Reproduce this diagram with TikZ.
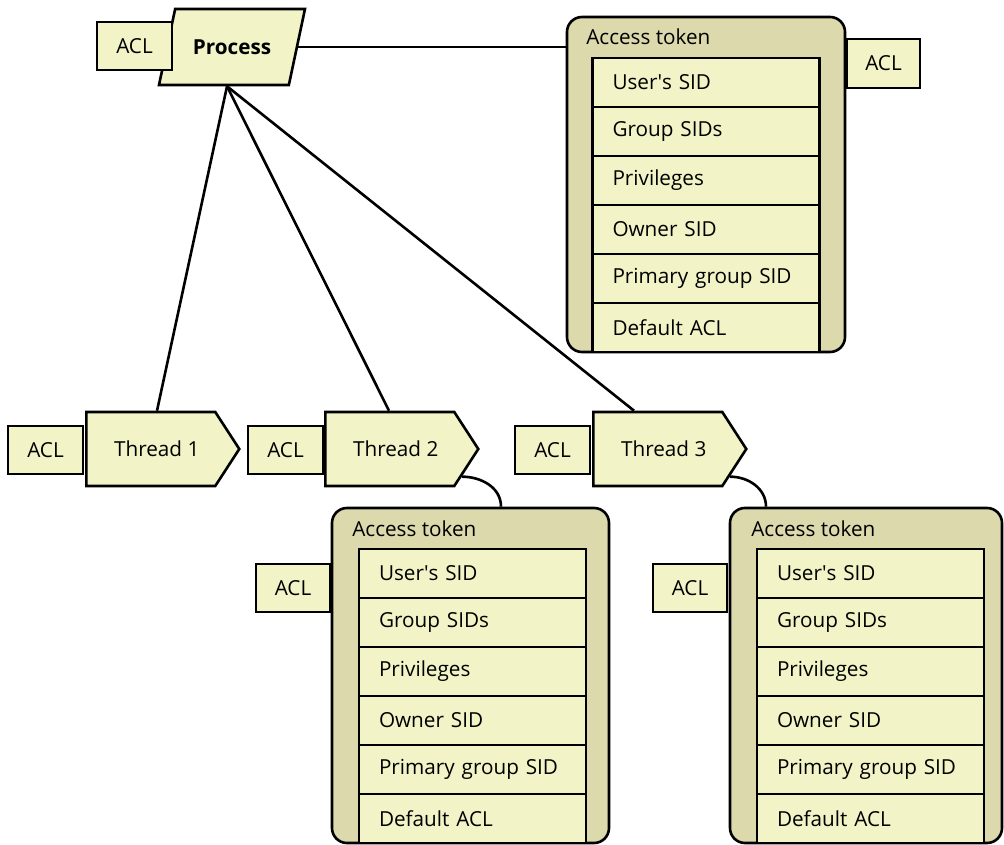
\documentclass[tikz,border=0pt]{standalone}
\usepackage{fontspec}
\setmainfont{Open Sans}
\usetikzlibrary{shapes.geometric,shapes.symbols}
\definecolor{pale}{RGB}{242,243,198}
\definecolor{khaki}{RGB}{220,218,172}
\begin{document}
\begin{tikzpicture}[
            x=1pt, y=1pt, line width=2.6pt, font=\fontsize{20.7}{24}\selectfont,
            acl/.style={draw, fill=pale, minimum width=75pt, minimum height=48pt, inner sep=0pt},
            field/.style={draw, fill=pale, minimum height=49pt, inner xsep=20pt, inner ysep=0pt, text width=187pt, align=left},
            token/.style={draw, fill=khaki, rounded corners=15pt, minimum height=335pt, inner sep=0pt},
            title/.style={anchor=west, inner sep=0pt},
            thread/.style={draw, fill=pale, signal, signal to=east, signal pointer angle=114, minimum width=153pt, minimum height=74pt, inner sep=0pt, anchor=west}
        ]
            \useasboundingbox (0,0) rectangle (1004,844);

            \node[draw, fill=pale, trapezium, trapezium left angle=78, trapezium right angle=102, trapezium stretches body, minimum width=146pt, text height=15pt, text depth=0pt, inner xsep=4pt, inner ysep=30.5pt, font=\fontsize{20.7}{24}\selectfont\bfseries] (proc) at (232,797) {Process};
            \node[acl] (pacl) at (134.5,798) {ACL};

            \node[token, minimum width=278pt] (tok) at (706,659.5) {};
            \node[title] at (585,807) {Access token};
            \node[field] (u) at (706,761.5) {User\textquotesingle s SID};
            \node[field] (g) at (706,712.5) {Group SIDs};
            \node[field] (p) at (706,663.5) {Privileges};
            \node[field] (o) at (706,614.5) {Owner SID};
            \node[field] (pg) at (706,565.5) {Primary group SID};
            \node[field] (d) at (706,516.5) {Default ACL};
            \node[acl, minimum width=73pt, minimum height=49pt] (tacl) at (883.5,780.5) {ACL};

            \node[thread] (t1) at (85,395) {\hspace{12pt}Thread 1};
            \node[acl] (acl1) at (45.5,394) {ACL};
            \node[thread] (t2) at (324,395) {\hspace{12pt}Thread 2};
            \node[acl] (acl2) at (285.5,394) {ACL};
            \node[thread] (t3) at (592,395) {\hspace{12pt}Thread 3};
            \node[acl] (acl3) at (552.5,394) {ACL};

            \node[token, minimum width=277pt] (tok2) at (470.5,168.5) {};
            \node[title] at (351,315) {Access token};
            \node[field] (u2) at (472.5,270.5) {User\textquotesingle s SID};
            \node[field] (g2) at (472.5,221.5) {Group SIDs};
            \node[field] (p2) at (472.5,172.5) {Privileges};
            \node[field] (o2) at (472.5,123.5) {Owner SID};
            \node[field] (pg2) at (472.5,74.5) {Primary group SID};
            \node[field] (d2) at (472.5,25.5) {Default ACL};
            \node[acl, minimum width=74pt] (tacl2) at (293,256) {ACL};

            \node[token, minimum width=272pt] (tok3) at (866,168.5) {};
            \node[title] at (750,315) {Access token};
            \node[field] (u3) at (870.5,270.5) {User\textquotesingle s SID};
            \node[field] (g3) at (870.5,221.5) {Group SIDs};
            \node[field] (p3) at (870.5,172.5) {Privileges};
            \node[field] (o3) at (870.5,123.5) {Owner SID};
            \node[field] (pg3) at (870.5,74.5) {Primary group SID};
            \node[field] (d3) at (870.5,25.5) {Default ACL};
            \node[acl, minimum width=74pt] (tacl3) at (690,256) {ACL};

            \draw (proc.east) -- (proc.east -| tok.west);
            \draw ([xshift=-5pt]proc.south) -- ([xshift=72pt]t1.north west);
            \draw ([xshift=-5pt]proc.south) -- ([xshift=65pt]t2.north west);
            \draw ([xshift=-5pt]proc.south) -- ([xshift=42pt]t3.north west);
            \draw (t2.-21) to[out=0, in=90] ([xshift=30.5pt]tok2.north);
            \draw (t3.-21) to[out=0, in=90] ([xshift=-100pt]tok3.north);
        \end{tikzpicture}
\end{document}
